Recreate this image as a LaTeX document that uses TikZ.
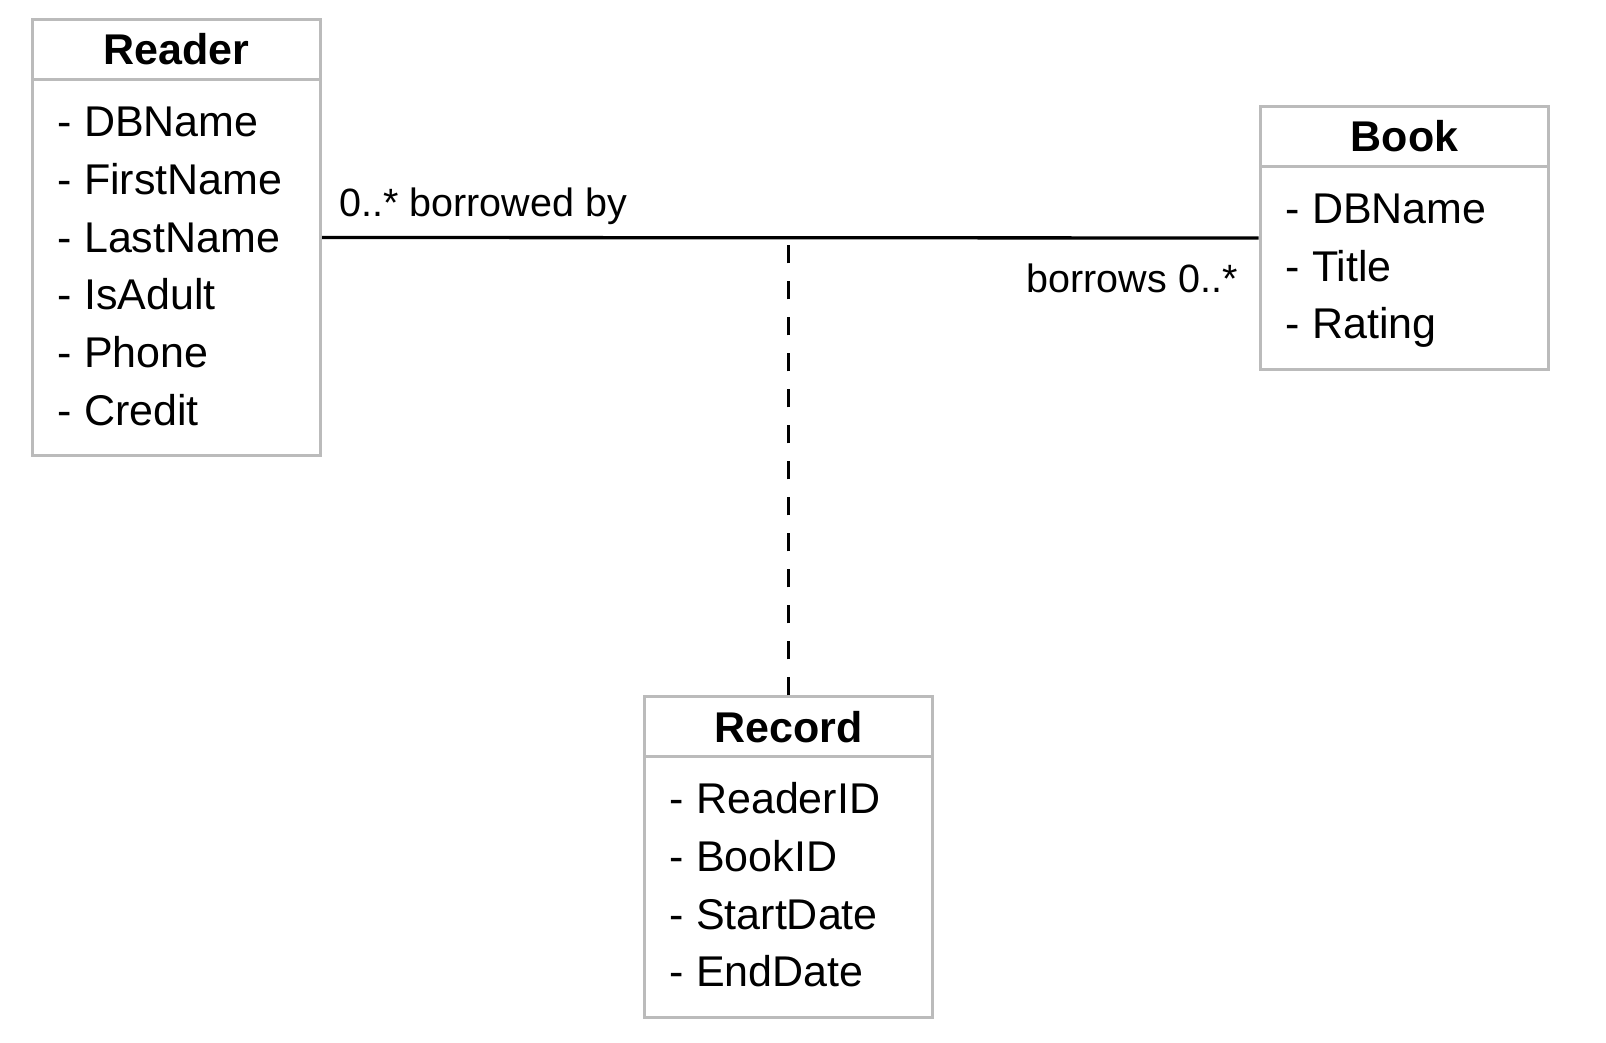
\documentclass[tikz,border=0pt]{standalone}
\usepackage{fontspec}
\setmainfont{Liberation Sans}
\definecolor{boxgray}{HTML}{BBBBBB}
\begin{document}
\begin{tikzpicture}[x=1pt,y=-1pt,
  box/.style={draw=boxgray, line width=3pt, inner sep=0pt, minimum width=288.5pt, anchor=north west},
  head/.style={box, minimum height=60pt, font=\fontsize{43}{50}\selectfont\bfseries},
  attr/.style={anchor=base west, inner sep=0pt, font=\fontsize{43}{50}\selectfont},
  lab/.style={inner sep=0pt, font=\fontsize{39.5}{46}\selectfont},
  assoc/.style={line width=3.3pt},
  dashline/.style={line width=3.2pt, dash pattern=on 18pt off 18pt}]
\useasboundingbox (0,0) rectangle (1606,1043);
% Reader
\node[box, minimum height=436pt] (reader) at (30.7,18) {};
\node[head] (readerh) at (reader.north west) {Reader};
\foreach \t [count=\i] in {DBName,FirstName,LastName,IsAdult,Phone,Credit}
  \node[attr] (reader-a\i) at ([xshift=27pt,yshift={-(56pt+(\i-1)*57.6pt)}]readerh.south west) {- \t};
% Book
\node[box, minimum height=263pt] (book) at (1258.7,105) {};
\node[head] (bookh) at (book.north west) {Book};
\foreach \t [count=\i] in {DBName,Title,Rating}
  \node[attr] (book-a\i) at ([xshift=27pt,yshift={-(55.5pt+(\i-1)*57.6pt)}]bookh.south west) {- \t};
% Record
\node[box, minimum height=321pt] (record) at (642.7,695.3) {};
\node[head] (recordh) at (record.north west) {Record};
\foreach \t [count=\i] in {ReaderID,BookID,StartDate,EndDate}
  \node[attr] (record-a\i) at ([xshift=27pt,yshift={-(55.5pt+(\i-1)*57.6pt)}]recordh.south west) {- \t};
% association
\draw[assoc] (reader.east) -- (book.west);
\coordinate (mid) at (record.north |- reader.east);
\draw[dashline] (record.north) -- (mid);
\node[lab, anchor=base west] (l1) at ([xshift=17pt,yshift=21pt]reader.east) {0..* borrowed by};
\node[lab, anchor=base east] (l2) at ([xshift=-21pt,yshift=-54pt]book.west) {borrows 0..*};
\end{tikzpicture}
\end{document}
